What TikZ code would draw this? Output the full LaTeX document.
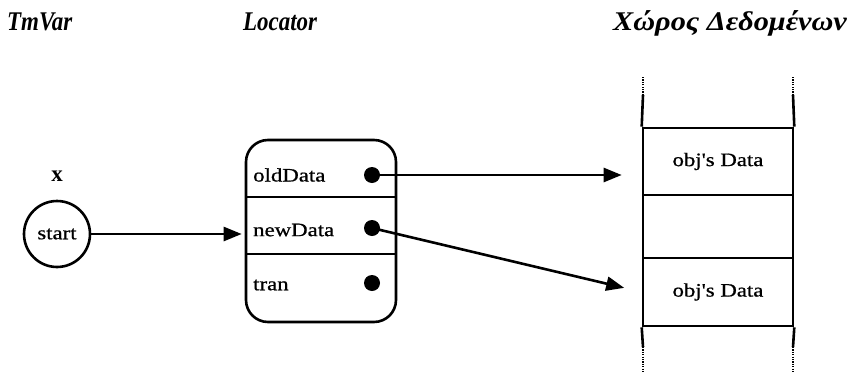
\documentclass[tikz,border=0pt]{standalone}
\usepackage{fontspec}
\setmainfont{Liberation Serif}
\newfontfamily\headfont[FakeStretch=0.85]{Liberation Serif}
\newfontfamily\greekhead[FakeStretch=1.12]{Liberation Serif}
\newfontfamily\cellfont[FakeStretch=1.2,FakeBold=0.8]{Liberation Serif}
\usetikzlibrary{arrows.meta,calc}
\tikzset{
  heading/.style={font=\headfont\bfseries\itshape\fontsize{27}{30}\selectfont, anchor=base west, inner sep=0pt},
  celltext/.style={font=\cellfont\fontsize{19}{20}\selectfont, inner sep=0pt},
  frame/.style={line width=2.6pt},
  ptr/.style={line width=2.6pt, -{Triangle[length=18pt,width=14pt]}},
  pin/.style={circle, fill, inner sep=0pt, minimum size=16pt},
  slot/.style={draw, frame, minimum width=150pt, inner sep=0pt},
  dots/.style={line width=2.4pt, dash pattern=on 1.2pt off 1.2pt}
}
\begin{document}
\begin{tikzpicture}[x=1pt,y=-1pt]
\useasboundingbox (0,0) rectangle (860,378);

% headings
\node[heading] (h1) at (7,30) {TmVar};
\node[heading] (h2) at (243,30) {Locator};
\node[heading, font=\greekhead\bfseries\itshape\fontsize{27}{30}\selectfont] (h3) at (613,30) {Χώρος Δεδομένων};

% the variable
\node[font=\bfseries\fontsize{23}{24}\selectfont, inner sep=0pt] (xlbl) at (57,176) {x};
\node[circle, draw, frame, minimum size=66pt, inner sep=0pt, celltext] (var) at (57,234) {start};

% the locator record
\node[draw, frame, rounded corners=22pt, minimum width=150pt, minimum height=182pt, inner sep=0pt] (loc) at (321,231) {};
\coordinate (r1) at (246,197);
\coordinate (r2) at (246,254);
\draw[frame] (r1) -- (r1 -| loc.east);
\draw[frame] (r2) -- (r2 -| loc.east);
\node[celltext, anchor=west] (f1) at (253,175) {oldData};
\node[celltext, anchor=west] (f2) at (253,230) {newData};
\node[celltext, anchor=west] (f3) at (253,285) {tran};
\node[pin] (d1) at (372,175) {};
\node[pin] (d2) at (372,228) {};
\node[pin] (d3) at (372,283) {};

% the data area
\node[slot, minimum height=67pt, celltext] (c1) at (718,161.5) {obj's Data};
\node[slot, minimum height=63pt] (c2) at (718,226.5) {};
\node[slot, minimum height=68pt, celltext] (c3) at (718,292) {obj's Data};
\coordinate (tl) at (643,95);
\coordinate (tr) at (793,95);
\coordinate (bl) at (643,347);
\coordinate (br) at (793,347);
\draw[frame] (tl) -- (c1.north west);
\draw[frame] (tr) -- (c1.north east);
\draw[frame] (bl) -- (c3.south west);
\draw[frame] (br) -- (c3.south east);
\draw[dots] (tl) -- ++(0,-18);
\draw[dots] (tr) -- ++(0,-18);
\draw[dots] (bl) -- ++(0,25);
\draw[dots] (br) -- ++(0,25);

% pointers
\draw[ptr, shorten >=3pt] (var.east) -- (var.east -| loc.west);
\draw[ptr, shorten >=20pt] (d1.center) -- (d1.center -| c1.west);
\draw[ptr, shorten >=18pt] (d2.center) -- (c3.west);
\end{tikzpicture}
\end{document}
